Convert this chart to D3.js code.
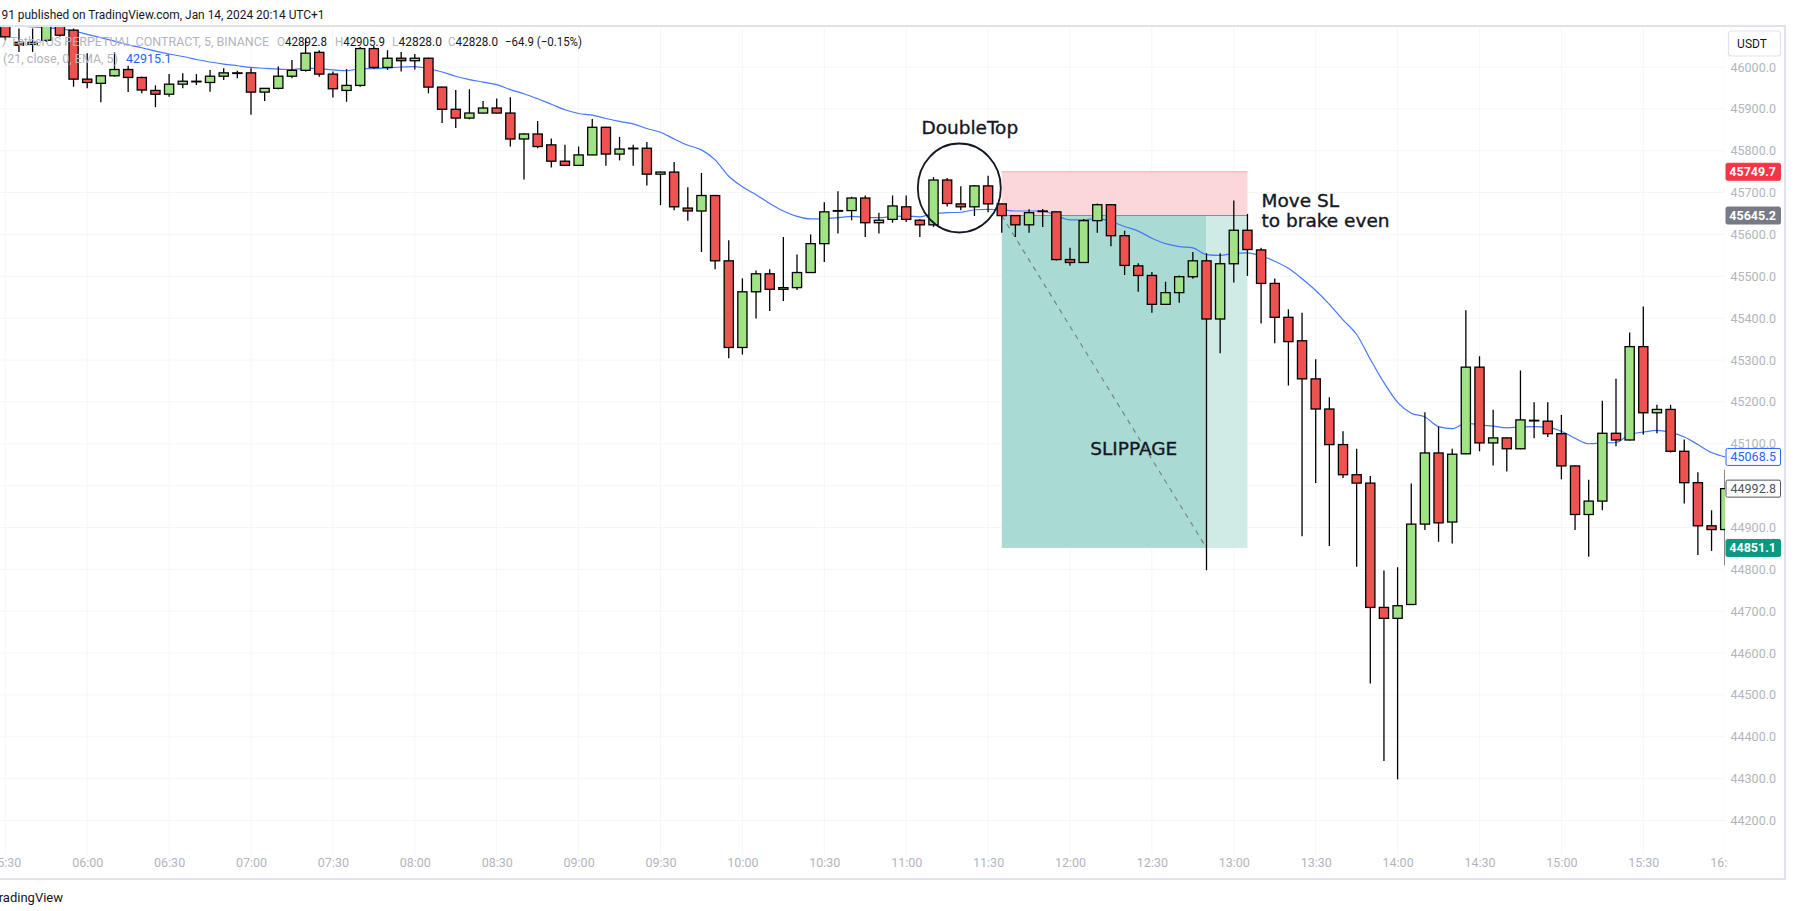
<!DOCTYPE html>
<html>
<head>
<meta charset="utf-8">
<script src="https://cdn.jsdelivr.net/npm/d3@7"></script>
<style>
  html, body { margin: 0; padding: 0; background: #fff; overflow: hidden; }
  svg { display: block; font-family: Roboto, "Liberation Sans", sans-serif; }
</style>
</head>
<body>
<script>
// 5 minute candles, BTCUSDT perpetual, Jan 14 2024
var times = [
  "05:30","05:35","05:40","05:45","05:50","05:55",
  "06:00","06:05","06:10","06:15","06:20","06:25","06:30","06:35","06:40","06:45","06:50","06:55",
  "07:00","07:05","07:10","07:15","07:20","07:25","07:30","07:35","07:40","07:45","07:50","07:55",
  "08:00","08:05","08:10","08:15","08:20","08:25","08:30","08:35","08:40","08:45","08:50","08:55",
  "09:00","09:05","09:10","09:15","09:20","09:25","09:30","09:35","09:40","09:45","09:50","09:55",
  "10:00","10:05","10:10","10:15","10:20","10:25","10:30","10:35","10:40","10:45","10:50","10:55",
  "11:00","11:05","11:10","11:15","11:20","11:25","11:30","11:35","11:40","11:45","11:50","11:55",
  "12:00","12:05","12:10","12:15","12:20","12:25","12:30","12:35","12:40","12:45","12:50","12:55",
  "13:00","13:05","13:10","13:15","13:20","13:25","13:30","13:35","13:40","13:45","13:50","13:55",
  "14:00","14:05","14:10","14:15","14:20","14:25","14:30","14:35","14:40","14:45","14:50","14:55",
  "15:00","15:05","15:10","15:15","15:20","15:25","15:30","15:35","15:40","15:45","15:50","15:55",
  "16:00"
];
var opens = [
  46108,46059,46054,46064,46100,46088,
  45971,45961,45979,45994,45975,45944,45935,45959,45966,45963,45978,45986,
  45986,45940,45949,45978,45992,46035,45983,45944,45956,46044,45999,46021,
  46015,46021,45952,45899,45878,45890,45902,45890,45828,45840,45814,45775,
  45765,45790,45856,45792,45806,45806,45744,45749,45663,45656,45693,45537,
  45330,45463,45506,45469,45473,45509,45578,45656,45657,45687,45628,45636,
  45666,45634,45623,45730,45673,45666,45716,45673,45645,45623,45656,45654,
  45540,45533,45633,45671,45597,45525,45502,45433,45461,45499,45537,45398,
  45530,45610,45563,45483,45402,45346,45255,45183,45098,45026,45006,44709,
  44683,44716,44908,45078,44913,45076,45283,45102,45114,45088,45156,45154,
  45124,45047,44931,44963,45125,45109,45332,45174,45182,45082,45007,44904,
  44895
];
var highs = [
  46125,46092,46092,46110,46106,46092,
  46033,45979,46035,46003,45977,45956,45983,45985,45983,45993,45997,45991,
  45997,45950,46001,46017,46068,46040,45989,45995,46048,46050,46040,46036,
  46031,46022,45953,45945,45947,45919,45925,45928,45842,45871,45829,45814,
  45810,45876,45857,45833,45814,45821,45750,45773,45713,45747,45694,45586,
  45495,45514,45517,45594,45552,45600,45677,45703,45690,45693,45652,45693,
  45693,45636,45737,45735,45715,45718,45740,45674,45646,45660,45661,45655,
  45568,45637,45674,45672,45609,45531,45510,45487,45502,45558,45555,45555,
  45681,45649,45568,45495,45421,45413,45302,45211,45130,45088,45023,44797,
  44805,45005,45175,45141,45088,45419,45309,45181,45115,45275,45199,45199,
  45169,45048,45014,45203,45255,45366,45428,45193,45193,45110,45032,44941,
  45038
];
var lows = [
  46064,46036,46036,46060,46072,45953,
  45949,45916,45977,45940,45937,45904,45929,45949,45957,45941,45969,45973,
  45886,45919,45947,45973,45989,45977,45927,45917,45953,45996,45993,45989,
  45994,45937,45866,45854,45875,45889,45889,45810,45731,45806,45760,45765,
  45764,45789,45764,45777,45764,45717,45670,45658,45633,45558,45517,45304,
  45313,45399,45417,45441,45467,45508,45534,45602,45634,45594,45602,45628,
  45630,45594,45618,45667,45658,45644,45653,45604,45594,45604,45618,45538,
  45525,45532,45604,45572,45503,45463,45413,45432,45437,45494,44798,45316,
  45485,45501,45387,45340,45239,44879,45006,44856,45018,44806,44527,44342,
  44298,44715,44894,44866,44862,45075,45082,45048,45034,45087,45113,45116,
  45015,44894,44830,44941,45094,45108,45122,45125,45079,44957,44834,44844,
  44810
];
var closes = [
  46072,46052,46059,46100,46076,45971,
  45963,45979,45994,45975,45945,45935,45959,45966,45965,45978,45986,45986,
  45940,45949,45978,45992,46033,45983,45948,45956,46044,45999,46021,46015,
  46021,45952,45899,45878,45890,45902,45890,45828,45840,45810,45775,45765,
  45790,45856,45792,45804,45805,45744,45749,45666,45656,45693,45537,45330,
  45463,45506,45469,45473,45509,45578,45654,45657,45687,45628,45634,45668,
  45636,45623,45730,45674,45666,45716,45673,45645,45623,45652,45655,45540,
  45533,45633,45671,45597,45526,45502,45433,45461,45499,45537,45398,45530,
  45610,45564,45483,45402,45344,45255,45183,45098,45026,45006,44709,44683,
  44713,44908,45078,44911,45075,45283,45102,45114,45088,45157,45155,45124,
  45047,44931,44963,45125,45109,45332,45174,45182,45082,45007,44904,44895,
  44992.8
];
// EMA 21
var ema21 = [
  46100,46098,46096,46094,46091,46086,
  46078,46070,46062,46053,46046,46038,46031,46025,46018,46012,46007,46003,
  45999,45997,45995,45994,45997,45996,45993,45991,45996,45996,45998,46000,
  46001,45996,45988,45978,45970,45964,45958,45946,45936,45924,45911,45898,
  45889,45885,45877,45870,45864,45853,45844,45828,45813,45802,45778,45739,
  45714,45695,45674,45656,45643,45637,45638,45640,45643,45641,45640,45643,
  45644,45642,45650,45652,45653,45659,45660,45659,45656,45656,45656,45645,
  45635,45635,45638,45631,45619,45608,45591,45578,45571,45568,45552,45550,
  45555,45556,45549,45536,45519,45494,45466,45433,45396,45361,45302,45246,
  45199,45173,45164,45141,45136,45149,45145,45142,45138,45140,45141,45139,
  45130,45113,45100,45102,45103,45122,45128,45132,45127,45116,45098,45079,
  45068.5
];

var timeTicks = ["05:30","06:00","06:30","07:00","07:30","08:00","08:30","09:00","09:30","10:00","10:30",
                 "11:00","11:30","12:00","12:30","13:00","13:30","14:00","14:30","15:00","15:30","16:00"];
var priceTicks = [46000,45900,45800,45700,45600,45500,45400,45300,45200,45100,
                  45000,44900,44800,44700,44600,44500,44400,44300,44200];

// short position drawing
var posStart = "11:35", posEnd = "13:05", posHit = "12:50";
var entryPrice = 45645.2, stopPrice = 45749.7, targetPrice = 44851.1;

// header / legend texts
var headerText = "91 published on TradingView.com, Jan 14, 2024 20:14 UTC+1";
var symbolText = "Bitcoin / TetherUS PERPETUAL CONTRACT, 5, BINANCE";
var legendOHLC = [["O", "42892.8"], ["H", "42905.9"], ["L", "42828.0"], ["C", "42828.0"]];
var legendChange = "\u221264.9 (\u22120.15%)";
var emaLegend = "EMA (21, close, 0, EMA, 5)";
var emaLegendValue = "42915.1";

window.onload = function() {
    var width = 1795, height = 911;
    var plot = {left: 0, right: 1725, top: 27, bottom: 855};

    var gray = "#b2b5be", dark = "#131722", border = "#e0e3eb";
    var upFill = "#9fe385", downFill = "#ef5350";

    var parseTime = d3.timeParse("%H:%M");

    // 06:00 -> 87.2 px, 16:00 -> 1725.2 px
    var xScale = d3.scaleTime()
                   .domain([parseTime("06:00"), parseTime("16:00")])
                   .range([87.2, 1725.2]);
    var yScale = d3.scaleLinear()
                   .domain([46000, 44200])
                   .range([67, 820.5]);

    var candles = times.map(function(t, i) {
        return {t: parseTime(t), o: opens[i], h: highs[i], l: lows[i], c: closes[i], ema: ema21[i]};
    });

    var svg = d3.select("body").append("svg")
                .attr("width", width)
                .attr("height", height);

    svg.append("rect").attr("width", width).attr("height", height).attr("fill", "#fff");

    var defs = svg.append("defs");
    defs.append("clipPath").attr("id", "plotClip")
        .append("rect")
        .attr("x", plot.left).attr("y", plot.top)
        .attr("width", plot.right - plot.left).attr("height", plot.bottom - plot.top);
    defs.append("clipPath").attr("id", "timeClip")
        .append("rect")
        .attr("x", 0).attr("y", plot.bottom)
        .attr("width", 1728).attr("height", 24);

    var chart = svg.append("g").attr("clip-path", "url(#plotClip)");

    // faint grid
    chart.append("g").selectAll("line.v")
         .data(timeTicks).enter().append("line")
         .attr("x1", function(d){ return xScale(parseTime(d)); })
         .attr("x2", function(d){ return xScale(parseTime(d)); })
         .attr("y1", plot.top).attr("y2", plot.bottom)
         .attr("stroke", "#f5f6f8").attr("stroke-width", 1);
    chart.append("g").selectAll("line.h")
         .data(priceTicks).enter().append("line")
         .attr("x1", plot.left).attr("x2", plot.right)
         .attr("y1", function(d){ return yScale(d); })
         .attr("y2", function(d){ return yScale(d); })
         .attr("stroke", "#f5f6f8").attr("stroke-width", 1);

    // position tool
    var xs = xScale(parseTime(posStart)), xe = xScale(parseTime(posEnd)), xh = xScale(parseTime(posHit));
    chart.append("rect")
         .attr("x", xs).attr("y", yScale(stopPrice))
         .attr("width", xe - xs).attr("height", yScale(entryPrice) - yScale(stopPrice))
         .attr("fill", "#fcd7da");
    chart.append("line")
         .attr("x1", xs).attr("x2", xe)
         .attr("y1", yScale(stopPrice)).attr("y2", yScale(stopPrice))
         .attr("stroke", "#f7aab1").attr("stroke-width", 1);
    chart.append("rect")
         .attr("x", xs).attr("y", yScale(entryPrice))
         .attr("width", xh - xs).attr("height", yScale(targetPrice) - yScale(entryPrice))
         .attr("fill", "#a9dbd3");
    chart.append("rect")
         .attr("x", xh).attr("y", yScale(entryPrice))
         .attr("width", xe - xh).attr("height", yScale(targetPrice) - yScale(entryPrice))
         .attr("fill", "#d0ebe6");
    chart.append("line")
         .attr("x1", xs).attr("x2", xe)
         .attr("y1", yScale(entryPrice)).attr("y2", yScale(entryPrice))
         .attr("stroke", "#8a8d96").attr("stroke-width", 1.2);
    chart.append("line")
         .attr("x1", xs).attr("y1", yScale(entryPrice))
         .attr("x2", xh).attr("y2", yScale(targetPrice))
         .attr("stroke", "#7d808a").attr("stroke-width", 1.2)
         .attr("stroke-dasharray", "5,5");

    // EMA line
    var emaLine = d3.line()
                    .x(function(d){ return xScale(d.t); })
                    .y(function(d){ return yScale(d.ema); })
                    .curve(d3.curveMonotoneX);
    chart.append("path")
         .datum(candles)
         .attr("d", emaLine)
         .attr("fill", "none")
         .attr("stroke", "#4577ff")
         .attr("stroke-width", 1.2);

    // candles
    var bars = chart.append("g").selectAll("g")
                    .data(candles).enter().append("g");
    bars.append("line")
        .attr("x1", function(d){ return xScale(d.t); })
        .attr("x2", function(d){ return xScale(d.t); })
        .attr("y1", function(d){ return yScale(d.h); })
        .attr("y2", function(d){ return yScale(d.l); })
        .attr("stroke", "#000").attr("stroke-width", 1.3);
    bars.append("rect")
        .attr("x", function(d){ return xScale(d.t) - 4.6; })
        .attr("width", 9.2)
        .attr("y", function(d){ return yScale(Math.max(d.o, d.c)); })
        .attr("height", function(d){ return Math.max(0.6, Math.abs(yScale(d.o) - yScale(d.c))); })
        .attr("fill", function(d){ return d.c >= d.o ? upFill : downFill; })
        .attr("stroke", "#000").attr("stroke-width", 1.3);

    // drawings
    var noteFont = "'DejaVu Sans', Verdana, sans-serif";
    var noteSize = 18.5;
    chart.append("ellipse")
         .attr("cx", xScale(parseTime("11:20")) - 1.5)
         .attr("cy", yScale(45711))
         .attr("rx", 41.5).attr("ry", 44.5)
         .attr("fill", "none").attr("stroke", dark).attr("stroke-width", 1.8);
    chart.append("text")
         .attr("x", xScale(parseTime("11:20")) + 9)
         .attr("y", yScale(45840))
         .attr("text-anchor", "middle")
         .attr("font-family", noteFont).attr("font-size", noteSize)
         .attr("fill", dark).attr("stroke", dark).attr("stroke-width", 0.35)
         .text("DoubleTop");
    var moveText = chart.append("text")
         .attr("font-family", noteFont).attr("font-size", noteSize)
         .attr("fill", dark).attr("stroke", dark).attr("stroke-width", 0.35);
    moveText.append("tspan")
            .attr("x", xScale(parseTime("13:10")) + 0.5).attr("y", yScale(45665))
            .text("Move SL");
    moveText.append("tspan")
            .attr("x", xScale(parseTime("13:10")) + 0.5).attr("y", yScale(45665) + 20)
            .text("to brake even");
    chart.append("text")
         .attr("x", xScale(parseTime("12:23")) + 1)
         .attr("y", yScale(45088))
         .attr("dy", "0.35em")
         .attr("text-anchor", "middle")
         .attr("font-family", noteFont).attr("font-size", noteSize)
         .attr("fill", dark).attr("stroke", dark).attr("stroke-width", 0.35)
         .text("SLIPPAGE");

    // frame lines
    svg.append("line").attr("x1", 0).attr("x2", 1786).attr("y1", 26).attr("y2", 26)
       .attr("stroke", border).attr("stroke-width", 2);
    svg.append("line").attr("x1", 0).attr("x2", 1786).attr("y1", 879).attr("y2", 879)
       .attr("stroke", border).attr("stroke-width", 2);
    svg.append("line").attr("x1", 1785).attr("x2", 1785).attr("y1", 26).attr("y2", 879)
       .attr("stroke", border).attr("stroke-width", 2);

    // header
    svg.append("text")
       .attr("x", 1.5).attr("y", 15).attr("dy", "0.35em")
       .attr("font-size", 12.5).attr("fill", dark)
       .attr("textLength", 323).attr("lengthAdjust", "spacingAndGlyphs")
       .text(headerText);

    // legend
    svg.append("text")
       .attr("x", 269).attr("y", 42).attr("dy", "0.35em")
       .attr("text-anchor", "end")
       .attr("font-size", 12.5).attr("fill", gray)
       .text(symbolText);
    var legendX = [277, 335, 392, 448];
    legendOHLC.forEach(function(d, i) {
        var t = svg.append("text")
                   .attr("x", legendX[i]).attr("y", 42).attr("dy", "0.35em")
                   .attr("font-size", 12.5)
                   .attr("textLength", 50).attr("lengthAdjust", "spacingAndGlyphs");
        t.append("tspan").attr("fill", gray).text(d[0]);
        t.append("tspan").attr("fill", dark).text(d[1]);
    });
    svg.append("text")
       .attr("x", 505).attr("y", 42).attr("dy", "0.35em")
       .attr("font-size", 12.5).attr("fill", dark)
       .attr("textLength", 77).attr("lengthAdjust", "spacingAndGlyphs")
       .text(legendChange);
    svg.append("text")
       .attr("x", 118).attr("y", 59).attr("dy", "0.35em")
       .attr("text-anchor", "end")
       .attr("font-size", 12.5).attr("fill", gray)
       .text(emaLegend);
    svg.append("text")
       .attr("x", 126).attr("y", 59).attr("dy", "0.35em")
       .attr("font-size", 12.5).attr("fill", "#2962ff")
       .text(emaLegendValue);

    // time axis
    var xAxis = d3.axisBottom(xScale)
                  .tickValues(timeTicks.map(parseTime))
                  .tickFormat(d3.timeFormat("%H:%M"))
                  .tickSize(0).tickPadding(0);
    var gx = svg.append("g")
                .attr("clip-path", "url(#timeClip)")
                .append("g")
                .attr("transform", "translate(0," + 863 + ")")
                .call(xAxis);
    gx.select(".domain").remove();
    gx.selectAll("text")
      .attr("y", 0).attr("dy", "0.35em")
      .attr("fill", gray)
      .attr("font-size", 12.5)
      .attr("font-family", "Roboto, 'Liberation Sans', sans-serif");

    // price axis
    var yAxis = d3.axisLeft(yScale)
                  .tickValues(priceTicks)
                  .tickFormat(d3.format(".1f"))
                  .tickSize(0).tickPadding(0);
    var gy = svg.append("g")
                .attr("transform", "translate(" + 1776 + ",0)")
                .call(yAxis);
    gy.select(".domain").remove();
    gy.selectAll("text")
      .attr("fill", gray)
      .attr("font-size", 12.5)
      .attr("font-family", "Roboto, 'Liberation Sans', sans-serif");

    // currency box
    svg.append("rect")
       .attr("x", 1728.5).attr("y", 31).attr("width", 52).attr("height", 25)
       .attr("rx", 3).attr("fill", "#fff").attr("stroke", border).attr("stroke-width", 1.2);
    svg.append("text")
       .attr("x", 1752).attr("y", 44).attr("dy", "0.35em")
       .attr("text-anchor", "middle")
       .attr("font-size", 12).attr("fill", dark)
       .text("USDT");

    // price labels on the axis
    var axisLabels = [
        {v: stopPrice, fill: "#f23645", stroke: "#f23645", color: "#fff", bold: true},
        {v: entryPrice, fill: "#787b86", stroke: "#787b86", color: "#fff", bold: true},
        {v: ema21[ema21.length - 1], fill: "#fff", stroke: "#2962ff", color: "#2962ff", bold: false},
        {v: closes[closes.length - 1], fill: "#fff", stroke: "#50535e", color: "#50535e", bold: false},
        {v: targetPrice, fill: "#089981", stroke: "#089981", color: "#fff", bold: true}
    ];
    var fmt = d3.format(".1f");
    var lab = svg.append("g").selectAll("g")
                 .data(axisLabels).enter().append("g")
                 .attr("transform", function(d){ return "translate(0," + yScale(d.v) + ")"; });
    lab.append("rect")
       .attr("x", 1726).attr("y", -8.5).attr("width", 54.5).attr("height", 17)
       .attr("rx", 1.5)
       .attr("fill", function(d){ return d.fill; })
       .attr("stroke", function(d){ return d.stroke; })
       .attr("stroke-width", 1);
    lab.append("text")
       .attr("x", 1776).attr("dy", "0.35em")
       .attr("text-anchor", "end")
       .attr("font-size", 12.5)
       .attr("font-weight", function(d){ return d.bold ? "bold" : "normal"; })
       .attr("fill", function(d){ return d.color; })
       .text(function(d){ return fmt(d.v); });

    // footer
    svg.append("text")
       .attr("x", 63).attr("y", 897).attr("dy", "0.35em")
       .attr("text-anchor", "end")
       .attr("font-size", 13).attr("fill", dark)
       .text("TradingView");
};
</script>
</body>
</html>
